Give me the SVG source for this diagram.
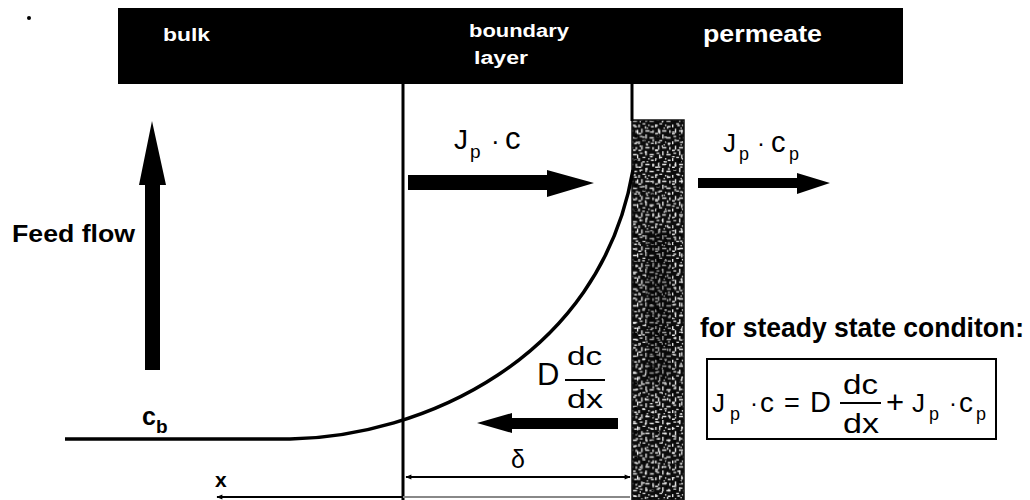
<svg xmlns="http://www.w3.org/2000/svg" width="1030" height="500" viewBox="0 0 1030 500">
<style>
  text { font-family: "Liberation Sans", Arial, sans-serif; fill: #000; }
  .hdr { fill: #fff; font-weight: bold; }
  .b { font-weight: bold; }
  .ln { stroke: #000; fill: none; }
</style>
<defs>
  <pattern id="noise1" width="12" height="12" patternUnits="userSpaceOnUse" patternTransform="scale(1.4)">
    <rect width="12" height="12" fill="#0c0c0c"/>
    <path d="M1 1h2v1h-2z M5 0h1v3h-1z M8 2h3v1h-3z M0 5h1v2h-1z M3 4h2v1h-2z M7 5h1v1h-1z M9 6h2v1h-2z M2 8h1v3h-1z M5 9h3v1h-3z M10 9h1v2h-1z M6 7h1v1h-1z M0 11h2v1h-2z" fill="#e6e6e6"/>
  </pattern>
  <pattern id="noise2" width="17" height="19" patternUnits="userSpaceOnUse" patternTransform="scale(1.3)">
    <path d="M3 2h1v2h-1z M11 1h2v1h-2z M14 5h1v3h-1z M7 6h2v1h-2z M1 10h2v1h-2z M9 12h1v2h-1z M13 14h2v1h-2z M4 15h1v2h-1z M16 17h1v1h-1z" fill="#f0f0f0"/>
    <path d="M6 3h1v1h-1z M12 9h2v2h-2z M2 13h1v1h-1z M8 16h2v1h-2z" fill="#000"/>
  </pattern>
  <marker id="dimR" viewBox="0 0 10 10" refX="9" refY="5" markerWidth="8" markerHeight="6" orient="auto" markerUnits="userSpaceOnUse">
    <path d="M0 1L10 5L0 9z" fill="#000"/>
  </marker>
  <marker id="dimL" viewBox="0 0 10 10" refX="1" refY="5" markerWidth="8" markerHeight="6" orient="auto" markerUnits="userSpaceOnUse">
    <path d="M10 1L0 5L10 9z" fill="#000"/>
  </marker>
</defs>

<rect width="1030" height="500" fill="#fff"/>
<circle cx="29" cy="18" r="2" fill="#000"/>

<g id="header">
  <rect x="118" y="8" width="785" height="76" fill="#000"/>
  <text class="hdr" x="163" y="41" font-size="19" textLength="47" lengthAdjust="spacingAndGlyphs">bulk</text>
  <text class="hdr" x="469" y="37" font-size="18" textLength="100" lengthAdjust="spacingAndGlyphs">boundary</text>
  <text class="hdr" x="474" y="64" font-size="18" textLength="54" lengthAdjust="spacingAndGlyphs">layer</text>
  <text class="hdr" x="703" y="42" font-size="24" textLength="119" lengthAdjust="spacingAndGlyphs">permeate</text>
</g>

<g id="membrane">
  <rect x="632" y="120" width="52" height="380" fill="url(#noise1)"/>
  <rect x="632" y="120" width="52" height="380" fill="url(#noise2)"/>
  <rect x="646" y="230" width="24" height="150" fill="#000" opacity="0.3"/>
  <rect x="632" y="120" width="52" height="380" fill="none" stroke="#111" stroke-width="1.5"/>
</g>

<g id="connectors">
  <line class="ln" x1="403" y1="84" x2="403" y2="500" stroke-width="3"/>
  <line class="ln" x1="632" y1="84" x2="632" y2="121" stroke-width="3"/>
  <path class="ln" d="M65,439 L290,439 C420,437 600,360 633,170" stroke-width="3.5"/>
  <line class="ln" x1="406" y1="477" x2="630" y2="477" stroke-width="2" marker-start="url(#dimL)" marker-end="url(#dimR)"/>
  <line x1="630" y1="497" x2="403" y2="497" stroke="#888" stroke-width="2"/>
  <line class="ln" x1="403" y1="497" x2="217" y2="497" stroke-width="2" marker-end="url(#dimR)"/>
</g>

<g id="feed-flow">
  <path d="M145,370 L145,185 L139,185 L152,121 L166,185 L160,185 L160,370 Z" fill="#000"/>
  <text class="b" x="12" y="242" font-size="23" textLength="123" lengthAdjust="spacingAndGlyphs">Feed flow</text>
</g>

<g id="flux-in">
  <path d="M408,175 L547,175 L547,170 L594,183 L547,197 L547,190 L408,190 Z" fill="#000"/>
  <text x="454" y="149" font-size="28">J</text>
  <text x="470" y="158" font-size="19">p</text>
  <text x="491" y="150" font-size="26">·</text>
  <text x="505" y="149" font-size="31">c</text>
</g>

<g id="flux-out">
  <path d="M698,178 L797,178 L797,173 L830,183 L797,194 L797,188 L698,188 Z" fill="#000"/>
  <text x="723" y="152" font-size="26">J</text>
  <text x="739" y="160" font-size="18">p</text>
  <text x="757" y="151" font-size="24">·</text>
  <text x="771" y="152" font-size="29">c</text>
  <text x="789" y="160" font-size="18">p</text>
</g>

<g id="diffusion">
  <path d="M618,418 L512,418 L512,413 L477,423 L512,433 L512,429 L618,429 Z" fill="#000"/>
  <text x="537" y="385" font-size="31">D</text>
  <text x="567" y="365" font-size="26" textLength="35" lengthAdjust="spacingAndGlyphs">dc</text>
  <line class="ln" x1="565" y1="380" x2="605" y2="380" stroke-width="2"/>
  <text x="567" y="408" font-size="26" textLength="36" lengthAdjust="spacingAndGlyphs">dx</text>
</g>

<g id="labels">
  <text class="b" x="142" y="425" font-size="25">c</text>
  <text class="b" x="156" y="433" font-size="19">b</text>
  <text x="511" y="468" font-size="25">δ</text>
  <text class="b" x="215" y="487" font-size="21">x</text>
</g>

<g id="equation">
  <text class="b" x="700" y="337" font-size="27" textLength="324" lengthAdjust="spacingAndGlyphs">for steady state conditon:</text>
  <rect x="707" y="359" width="289" height="80" fill="none" stroke="#000" stroke-width="2"/>
  <text x="712" y="412" font-size="26">J</text>
  <text x="730" y="420" font-size="18">p</text>
  <text x="750" y="411" font-size="24">·</text>
  <text x="760" y="412" font-size="28">c</text>
  <text x="784" y="412" font-size="27">=</text>
  <text x="810" y="412" font-size="29">D</text>
  <text x="843" y="394" font-size="27" textLength="35" lengthAdjust="spacingAndGlyphs">dc</text>
  <line class="ln" x1="840" y1="403" x2="881" y2="403" stroke-width="2"/>
  <text x="843" y="433" font-size="27" textLength="36" lengthAdjust="spacingAndGlyphs">dx</text>
  <text x="886" y="413" font-size="31">+</text>
  <text x="912" y="412" font-size="26">J</text>
  <text x="929" y="420" font-size="18">p</text>
  <text x="949" y="411" font-size="24">·</text>
  <text x="959" y="412" font-size="28">c</text>
  <text x="976" y="420" font-size="18">p</text>
</g>
</svg>
